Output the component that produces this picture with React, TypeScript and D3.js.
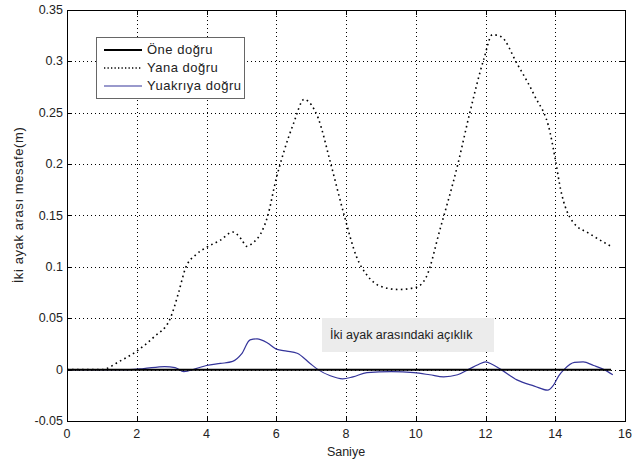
import React, { useRef, useEffect } from 'react';
import * as d3 from 'd3';

// x ticks / y ticks
const xTicks = [0, 2, 4, 6, 8, 10, 12, 14, 16];
const yTicks = [-0.05, 0, 0.05, 0.1, 0.15, 0.2, 0.25, 0.3, 0.35];

// Öne doğru (flat)
const oneX = [0, 15.6];
const oneY = [0, 0];

// Yana doğru (dotted)
const yanaX = [0, 1.0, 1.5, 2.0, 2.5, 2.95, 3.2, 3.4, 3.7, 4.0, 4.4, 4.75, 5.0, 5.15, 5.35, 5.55, 5.75, 6.0, 6.2, 6.5, 6.8, 7.0, 7.2, 7.55, 7.95, 8.3, 8.6, 9.0, 9.5, 10.0, 10.3, 10.7, 11.2, 11.55, 11.95, 12.2, 12.45, 12.9, 13.4, 13.85, 14.0, 14.15, 14.5, 15.0, 15.6];
const yanaY = [0, 0, 0.008, 0.018, 0.032, 0.049, 0.075, 0.099, 0.112, 0.119, 0.126, 0.134, 0.127, 0.12, 0.124, 0.132, 0.149, 0.186, 0.21, 0.24, 0.263, 0.258, 0.245, 0.202, 0.15, 0.11, 0.092, 0.081, 0.078, 0.08, 0.09, 0.137, 0.199, 0.25, 0.302, 0.326, 0.324, 0.298, 0.267, 0.231, 0.205, 0.176, 0.144, 0.132, 0.12];

// Yuakrıya doğru (blue)
const yukX = [0, 1.8, 2.2, 2.8, 3.1, 3.35, 3.7, 4.0, 4.4, 4.75, 5.0, 5.25, 5.45, 5.75, 6.0, 6.3, 6.6, 6.97, 7.2, 7.55, 7.9, 8.2, 8.6, 9.3, 9.95, 10.4, 10.8, 11.2, 11.5, 11.8, 12.0, 12.2, 12.45, 12.9, 13.4, 13.78, 13.95, 14.1, 14.25, 14.55, 14.8, 15.1, 15.4, 15.65];
const yukY = [0, 0, 0.001, 0.003, 0.002, -0.002, 0.001, 0.004, 0.006, 0.008, 0.015, 0.029, 0.03, 0.026, 0.02, 0.018, 0.016, 0.006, 0.0, -0.006, -0.009, -0.007, -0.003, -0.002, -0.003, -0.005, -0.007, -0.005, 0.0, 0.005, 0.0075, 0.005, 0.0, -0.01, -0.016, -0.02, -0.015, -0.006, 0.0, 0.007, 0.0075, 0.004, 0.0, -0.005];

const W = 633;
const H = 465;
const margin = { left: 67, right: 8, top: 10, bottom: 44 };

const App = () => {
  const svgRef = useRef<SVGSVGElement>(null);

  useEffect(() => {
    const el = svgRef.current;
    if (!el) return;
    d3.select(el).selectAll('*').remove();

    const svg = d3.select(el);
    const x = d3.scaleLinear().domain([0, 16]).range([margin.left, W - margin.right]);
    const y = d3.scaleLinear().domain([-0.05, 0.35]).range([H - margin.bottom, margin.top]);
    const [x0, x1] = x.range();
    const [y0, y1] = y.range();
    const font = 'Liberation Sans, Arial, sans-serif';

    svg.append('rect')
      .attr('x', x0).attr('y', y1)
      .attr('width', x1 - x0).attr('height', y0 - y1)
      .attr('fill', '#fff');

    // grid
    const grid = svg.append('g').attr('stroke', '#000').attr('stroke-width', 1)
      .attr('stroke-dasharray', '1,3').attr('shape-rendering', 'crispEdges');
    xTicks.slice(1, -1).forEach(t => {
      grid.append('line').attr('x1', Math.round(x(t)) + 0.5).attr('x2', Math.round(x(t)) + 0.5).attr('y1', y0).attr('y2', y1);
    });
    yTicks.slice(1, -1).forEach(t => {
      grid.append('line').attr('y1', Math.round(y(t)) + 0.5).attr('y2', Math.round(y(t)) + 0.5).attr('x1', x0).attr('x2', x1);
    });

    // axes box and ticks on all sides
    const axesG = svg.append('g').attr('stroke', '#000').attr('stroke-width', 1).attr('shape-rendering', 'crispEdges');
    axesG.append('rect').attr('x', x0 + 0.5).attr('y', y1 + 0.5).attr('width', x1 - x0).attr('height', y0 - y1).attr('fill', 'none');
    xTicks.forEach(t => {
      const px = Math.round(x(t)) + 0.5;
      axesG.append('line').attr('x1', px).attr('x2', px).attr('y1', y0).attr('y2', y0 - 5);
      axesG.append('line').attr('x1', px).attr('x2', px).attr('y1', y1).attr('y2', y1 + 5);
    });
    yTicks.forEach(t => {
      const py = Math.round(y(t)) + 0.5;
      axesG.append('line').attr('x1', x0).attr('x2', x0 + 5).attr('y1', py).attr('y2', py);
      axesG.append('line').attr('x1', x1).attr('x2', x1 - 5).attr('y1', py).attr('y2', py);
    });

    // tick labels
    svg.append('g').selectAll('text').data(xTicks).join('text')
      .attr('x', d => x(d)).attr('y', y0 + 17)
      .attr('text-anchor', 'middle').attr('font-family', font).attr('font-size', 12.5).attr('fill', '#222')
      .text(d => d3.format('')(d));
    svg.append('g').selectAll('text').data(yTicks).join('text')
      .attr('x', x0 - 4).attr('y', d => y(d) + 4)
      .attr('text-anchor', 'end').attr('font-family', font).attr('font-size', 12.5).attr('fill', '#222')
      .text(d => (d === 0 ? '0' : String(+d.toFixed(2))));

    // axis labels
    svg.append('text')
      .attr('x', (x0 + x1) / 2).attr('y', y0 + 35)
      .attr('text-anchor', 'middle').attr('font-family', font).attr('font-size', 12.5).attr('fill', '#222')
      .text('Saniye');
    svg.append('text')
      .attr('transform', `translate(23, 205) rotate(-90)`)
      .attr('text-anchor', 'middle').attr('font-family', font).attr('font-size', 13)
      .attr('letter-spacing', 0.6).attr('fill', '#222')
      .text('İki ayak arası mesafe(m)');

    const line = d3.line<[number, number]>()
      .x(d => x(d[0])).y(d => y(d[1]))
      .curve(d3.curveMonotoneX);

    const zip = (xs: number[], ys: number[]) => xs.map((v, i) => [v, ys[i]] as [number, number]);

    svg.append('path').attr('d', line(zip(yanaX, yanaY)))
      .attr('fill', 'none').attr('stroke', '#000').attr('stroke-width', 1.6)
      .attr('stroke-dasharray', '1.6,3.4');
    svg.append('path').attr('d', line(zip(yukX, yukY)))
      .attr('fill', 'none').attr('stroke', '#34349a').attr('stroke-width', 1.2);
    svg.append('path').attr('d', line(zip(oneX, oneY)))
      .attr('fill', 'none').attr('stroke', '#000').attr('stroke-width', 2);

    // annotation
    svg.append('rect').attr('x', 322).attr('y', 318).attr('width', 172).attr('height', 34).attr('fill', '#ececec');
    svg.append('text').attr('x', 330).attr('y', 339)
      .attr('font-family', font).attr('font-size', 12.5).attr('fill', '#222')
      .text('İki ayak arasındaki açıklık');

    // legend
    const lg = svg.append('g');
    lg.append('rect').attr('x', 96.5).attr('y', 37.5).attr('width', 148).attr('height', 61)
      .attr('fill', '#fff').attr('stroke', '#666').attr('stroke-width', 1);
    const items = [
      { label: 'Öne doğru', color: '#000', width: 2, dash: null },
      { label: 'Yana doğru', color: '#000', width: 1.3, dash: '1.3,2.2' },
      { label: 'Yuakrıya doğru', color: '#34349a', width: 1.2, dash: null },
    ];
    items.forEach((it, i) => {
      const ly = 50 + i * 18;
      const l = lg.append('line').attr('x1', 104).attr('x2', 142).attr('y1', ly).attr('y2', ly)
        .attr('stroke', it.color).attr('stroke-width', it.width);
      if (it.dash) l.attr('stroke-dasharray', it.dash);
      lg.append('text').attr('x', 147).attr('y', ly + 4)
        .attr('font-family', font).attr('font-size', 13).attr('letter-spacing', 0.5)
        .attr('fill', '#222').text(it.label);
    });
  }, []);

  return (
    <svg ref={svgRef} width={W} height={H} style={{ position: 'absolute', left: 0, top: 0, background: '#fff' }} />
  );
};

export default App;
